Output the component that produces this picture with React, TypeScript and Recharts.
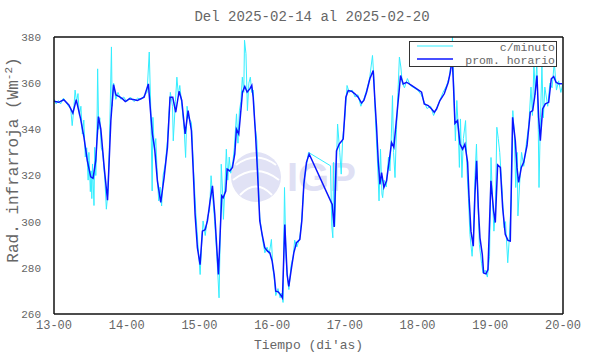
import React from 'react';
import { LineChart, Line, XAxis, YAxis, CartesianGrid, Legend, Label } from 'recharts';

const dayTicks = [13, 14, 15, 16, 17, 18, 19, 20];
const radTicks = [260, 280, 300, 320, 340, 360, 380];

// promedio horario: [dia, W/m2]
const hourly: [number, number][] = [
  [13.0, 352.2], [13.065, 351.7], [13.134, 352.8], [13.204, 350.6], [13.259, 347.0], [13.306, 352.8],
  [13.366, 344.5], [13.412, 336.5], [13.458, 326.4], [13.505, 319.4], [13.537, 318.8], [13.574, 326.4],
  [13.611, 345.5], [13.644, 340.1], [13.69, 323.5], [13.736, 309.3], [13.782, 343.8], [13.819, 359.4],
  [13.852, 354.9], [13.898, 354.2], [13.944, 353.2], [13.981, 352.0], [14.037, 353.2], [14.106, 352.8],
  [14.147, 352.5], [14.239, 353.9], [14.298, 359.7], [14.33, 346.7], [14.353, 338.0], [14.385, 331.4],
  [14.422, 317.7], [14.468, 308.3], [14.514, 319.1], [14.56, 332.2], [14.596, 353.9], [14.633, 353.9],
  [14.674, 347.4], [14.72, 356.5], [14.757, 352.5], [14.803, 338.0], [14.844, 348.1], [14.89, 339.4],
  [14.917, 320.6], [14.94, 303.2], [14.972, 288.7], [15.009, 281.4], [15.041, 295.9], [15.078, 296.5],
  [15.11, 300.3], [15.147, 309.0], [15.179, 315.5], [15.211, 303.2], [15.261, 277.1], [15.307, 311.2],
  [15.326, 310.4], [15.362, 313.3], [15.381, 322.8], [15.417, 322.0], [15.454, 323.5], [15.486, 329.3],
  [15.509, 340.1], [15.541, 338.0], [15.564, 346.0], [15.592, 356.1], [15.624, 358.6], [15.656, 356.1],
  [15.693, 357.5], [15.72, 359.0], [15.739, 353.9], [15.771, 338.0], [15.798, 322.0], [15.83, 300.3],
  [15.862, 294.5], [15.899, 288.7], [15.936, 287.2], [15.968, 286.5], [16.0, 282.9], [16.028, 277.1],
  [16.05, 269.9], [16.083, 269.6], [16.115, 268.4], [16.142, 267.0], [16.174, 298.8], [16.206, 277.1],
  [16.229, 272.0], [16.266, 280.0], [16.298, 286.5], [16.335, 290.9], [16.381, 292.3], [16.408, 300.3],
  [16.436, 316.2], [16.472, 325.7], [16.509, 329.3],
  [16.826, 307.5], [16.853, 297.7], [16.885, 330.7], [16.922, 333.6], [16.954, 334.8], [16.977, 335.8],
  [17.014, 353.9], [17.046, 356.8], [17.092, 356.5], [17.138, 355.4], [17.183, 353.9], [17.229, 351.4],
  [17.261, 352.5], [17.298, 356.1], [17.344, 361.9], [17.39, 365.5], [17.413, 352.5], [17.436, 340.9],
  [17.459, 326.4], [17.482, 316.2], [17.505, 321.3], [17.537, 314.8], [17.573, 317.7], [17.61, 326.4],
  [17.642, 334.3], [17.674, 332.2], [17.734, 352.5], [17.766, 363.3], [17.803, 359.7], [17.849, 360.4],
  [17.917, 359.0], [18.009, 357.1], [18.055, 356.1], [18.092, 351.0], [18.147, 350.3], [18.193, 348.8],
  [18.229, 347.4], [18.261, 348.8], [18.307, 352.5], [18.367, 355.4], [18.422, 360.4], [18.45, 364.8],
  [18.477, 370.6], [18.495, 358.3], [18.514, 342.6], [18.55, 343.8], [18.583, 333.6], [18.619, 331.4],
  [18.651, 333.6], [18.688, 325.7], [18.706, 311.9], [18.734, 295.9], [18.766, 289.4], [18.789, 311.9],
  [18.812, 326.4], [18.835, 306.1], [18.858, 293.0], [18.89, 285.8], [18.908, 277.8], [18.94, 277.4],
  [18.968, 279.3], [19.009, 317.7], [19.046, 304.6], [19.069, 299.6], [19.101, 324.6], [19.138, 323.5],
  [19.17, 306.1], [19.206, 294.5], [19.243, 291.9], [19.275, 291.6], [19.307, 345.2], [19.344, 335.1],
  [19.367, 323.5], [19.39, 317.0], [19.427, 323.5], [19.459, 325.7], [19.505, 332.9], [19.55, 347.4],
  [19.583, 348.1], [19.61, 353.9], [19.642, 363.3], [19.665, 345.2], [19.688, 335.1], [19.72, 348.8],
  [19.757, 351.0], [19.803, 351.7], [19.839, 361.9], [19.872, 362.9], [19.904, 360.4], [19.94, 359.7],
  [19.986, 359.7],
];

// datos c/minuto
const perMinute: [number, number][] = [
  [13.0, 353], [13.03, 351], [13.06, 352.5], [13.09, 351], [13.13, 353.5], [13.17, 351.5], [13.2, 350],
  [13.23, 349], [13.25, 341.6], [13.27, 348], [13.29, 357], [13.31, 352], [13.33, 355.5], [13.35, 346],
  [13.37, 350], [13.39, 338], [13.41, 344], [13.43, 328], [13.45, 332], [13.47, 318], [13.48, 330],
  [13.5, 313], [13.51, 322], [13.52, 310], [13.53, 325], [13.55, 307], [13.56, 332.2], [13.575, 320],
  [13.59, 337], [13.6, 366.2], [13.615, 340], [13.63, 345], [13.65, 332], [13.67, 330], [13.7, 318],
  [13.72, 305.4], [13.74, 312], [13.76, 330], [13.79, 375.7], [13.8, 350], [13.82, 360], [13.85, 353],
  [13.88, 356], [13.92, 353], [13.96, 354], [14.0, 352], [14.05, 354], [14.1, 352], [14.15, 353.5],
  [14.2, 353], [14.25, 355], [14.28, 356], [14.31, 373.5], [14.33, 350], [14.35, 313.3], [14.36, 345.2],
  [14.38, 331], [14.4, 336], [14.42, 320], [14.44, 309], [14.46, 315], [14.48, 306.8], [14.5, 320],
  [14.53, 325], [14.56, 335], [14.58, 346], [14.6, 356], [14.63, 350], [14.64, 335], [14.67, 352],
  [14.69, 362.6], [14.71, 355], [14.73, 359], [14.76, 350], [14.79, 340], [14.81, 327.8], [14.83, 350],
  [14.85, 345], [14.89, 343], [14.92, 322], [14.95, 304], [14.98, 290], [15.01, 277.1], [15.03, 290],
  [15.05, 300.3], [15.08, 294], [15.11, 302], [15.14, 305], [15.16, 319.9], [15.18, 312], [15.21, 300],
  [15.24, 285], [15.27, 267], [15.29, 300], [15.3, 324.9], [15.32, 312], [15.33, 301], [15.35, 315],
  [15.37, 331.4], [15.39, 318], [15.41, 328], [15.43, 321], [15.46, 326], [15.48, 332], [15.51, 346.7],
  [15.53, 334], [15.55, 348], [15.57, 352], [15.59, 362.6], [15.61, 356], [15.62, 378.6], [15.64, 372.8],
  [15.66, 348.1], [15.68, 360], [15.7, 362.6], [15.72, 356], [15.74, 357], [15.76, 343], [15.79, 335],
  [15.81, 318], [15.83, 302], [15.87, 292], [15.9, 286.5], [15.93, 289], [15.96, 286], [15.99, 292.3],
  [16.01, 280], [16.03, 275], [16.05, 268], [16.08, 271], [16.11, 267], [16.13, 269], [16.15, 265],
  [16.17, 314.8], [16.19, 285], [16.21, 276], [16.23, 270.6], [16.26, 281], [16.29, 285], [16.31, 292],
  [16.34, 289], [16.38, 293], [16.41, 302], [16.44, 318], [16.47, 324], [16.5, 330], [16.803, 324.2],
  [16.82, 298], [16.835, 293], [16.845, 325.7], [16.86, 298], [16.88, 320], [16.9, 342.3], [16.93, 330],
  [16.95, 320.6], [16.97, 336], [17.0, 345], [17.03, 359], [17.06, 356], [17.1, 357], [17.14, 354],
  [17.18, 355], [17.22, 350], [17.26, 353], [17.3, 357], [17.34, 362], [17.38, 372], [17.4, 362],
  [17.42, 345], [17.45, 325], [17.47, 309], [17.49, 331.4], [17.51, 312], [17.52, 310.4], [17.54, 318],
  [17.57, 315], [17.6, 328], [17.62, 322], [17.64, 338], [17.655, 354.6], [17.67, 330], [17.69, 319.1],
  [17.71, 340], [17.73, 356], [17.75, 371.3], [17.77, 367], [17.79, 360], [17.82, 358], [17.86, 362],
  [17.9, 359], [17.95, 358], [18.0, 357], [18.05, 355], [18.09, 352], [18.13, 349], [18.18, 350],
  [18.22, 346], [18.26, 349], [18.3, 352], [18.35, 356], [18.4, 359], [18.44, 363], [18.47, 372],
  [18.48, 380], [18.5, 356], [18.52, 335], [18.54, 352.5], [18.56, 340], [18.575, 323.5], [18.59, 344.5],
  [18.61, 319.1], [18.63, 336], [18.66, 343.8], [18.68, 322], [18.7, 310], [18.72, 294.5], [18.75, 285],
  [18.77, 295], [18.79, 320], [18.81, 333.6], [18.83, 310], [18.85, 290], [18.88, 282], [18.9, 277.8],
  [18.93, 279], [18.96, 276], [18.99, 285], [19.01, 327.8], [19.03, 310], [19.05, 295.9], [19.07, 305],
  [19.09, 340.9], [19.11, 336], [19.13, 330], [19.16, 315], [19.19, 297.4], [19.21, 300], [19.24, 282.2],
  [19.26, 292], [19.29, 310], [19.31, 348.1], [19.33, 338], [19.35, 314.8], [19.37, 330], [19.38, 302.5],
  [19.41, 320], [19.43, 330], [19.46, 324], [19.5, 335], [19.53, 342], [19.56, 358.3], [19.58, 346],
  [19.6, 368.4], [19.62, 355], [19.64, 369.9], [19.66, 340], [19.67, 314.8], [19.69, 345], [19.71, 367],
  [19.73, 345], [19.75, 358.3], [19.79, 350], [19.82, 360], [19.85, 358], [19.88, 369.1], [19.91, 357],
  [19.94, 361], [19.97, 356], [20.0, 360],
];

const hourlyData = hourly.map(([t, v]) => ({ t, v }));
const minuteData = perMinute.map(([t, v]) => ({ t, v }));

const FONT = '"Liberation Mono", Cousine, "Courier New", Courier, monospace';
const TEXT = '#666';
const CYAN = '#33eeff';
const BLUE = '#0a14ff';

const fmtDay = (d: number) => `${d}-00`;

const LegendBox = () => (
  <svg width={148} height={26} style={{ display: 'block' }}>
    <rect x={0.5} y={0.5} width={147} height={25} fill="#fff" stroke="#333" />
    <line x1={8} x2={44} y1={5} y2={5} stroke={CYAN} strokeWidth={1} />
    <line x1={8} x2={44} y1={18} y2={18} stroke={BLUE} strokeWidth={1.5} />
    <text x={146} y={10} textAnchor="end" fontFamily={FONT} fontSize={11.5} fill={TEXT}>c/minuto</text>
    <text x={146} y={23} textAnchor="end" fontFamily={FONT} fontSize={11.5} fill={TEXT}>prom. horario</text>
  </svg>
);

const YTitle = () => (
  <text x={18} y={160} transform="rotate(-90, 18, 160)" textAnchor="middle" fontFamily={FONT} fontSize={16} fill={TEXT}>
    Rad. infrarroja (Wm<tspan dy={-6} fontSize={11}>-2</tspan><tspan dy={6}>)</tspan>
  </text>
);

const Watermark = () => (
  <svg width={590} height={354} style={{ position: 'absolute', left: 0, top: 0 }}>
    <circle cx={256} cy={177} r={25} fill="#e1e2f5" />
    <path d="M236 165 Q256 150 276 165" stroke="#fff" strokeWidth={2} fill="none" />
    <path d="M233 180 Q256 162 279 180" stroke="#fff" strokeWidth={2} fill="none" />
    <path d="M240 195 Q256 178 272 195" stroke="#fff" strokeWidth={2} fill="none" />
    <text x={287} y={191} fontFamily="Liberation Sans, Arial, sans-serif" fontWeight="bold" fontSize={40} fill="#dfe0f4">IGP</text>
  </svg>
);

export default function App() {
  return (
    <div style={{ position: 'absolute', left: 0, top: 0, width: 590, height: 354, background: '#fff' }}>
      <Watermark />
      <div style={{ position: 'absolute', left: 0, top: 9, width: 590, textAlign: 'center', paddingLeft: 34, boxSizing: 'border-box', fontFamily: FONT, fontSize: 14, color: TEXT }}>
        Del 2025-02-14 al 2025-02-20
      </div>
      <div style={{ position: 'absolute', left: 0, top: 0 }}>
        <LineChart width={590} height={354} margin={{ top: 37, right: 27, left: 0, bottom: 0 }}>
          <CartesianGrid stroke="#aaa" strokeDasharray="2 3" horizontalValues={radTicks} verticalValues={dayTicks} />
          <XAxis
            xAxisId="main"
            dataKey="t"
            type="number"
            domain={[13, 20]}
            ticks={dayTicks}
            tickFormatter={fmtDay}
            allowDataOverflow
            height={40}
            tickSize={0}
            tickMargin={6}
            tickLine={false}
            axisLine={{ stroke: '#111', strokeWidth: 1.5 }}
            tick={{ fontFamily: FONT, fontSize: 12, fill: TEXT }}
          >
            <Label value="Tiempo (di'as)" position="insideBottom" offset={5} style={{ fontFamily: FONT, fontSize: 13, fill: TEXT }} />
          </XAxis>
          <XAxis xAxisId="bm" type="number" domain={[13, 20]} ticks={dayTicks} orientation="bottom" mirror tick={false} tickSize={5} axisLine={false} tickLine={{ stroke: '#111', strokeWidth: 1.5 }} />
          <XAxis xAxisId="top" type="number" domain={[13, 20]} ticks={dayTicks} orientation="top" mirror tick={false} tickSize={5} axisLine={{ stroke: '#111', strokeWidth: 1.5 }} tickLine={{ stroke: '#111', strokeWidth: 1.5 }} />
          <YAxis
            yAxisId="main"
            type="number"
            domain={[260, 380]}
            ticks={radTicks}
            allowDataOverflow
            width={54}
            tickSize={0}
            tickMargin={13}
            tickLine={false}
            axisLine={{ stroke: '#111', strokeWidth: 1.5 }}
            tick={{ fontFamily: FONT, fontSize: 11, fill: TEXT }}
          >
            <Label content={() => <YTitle />} />
          </YAxis>
          <YAxis yAxisId="lm" type="number" domain={[260, 380]} ticks={radTicks} orientation="left" mirror tick={false} tickSize={5} axisLine={false} tickLine={{ stroke: '#111', strokeWidth: 1.5 }} />
          <YAxis yAxisId="right" type="number" domain={[260, 380]} ticks={radTicks} orientation="right" mirror tick={false} tickSize={5} axisLine={{ stroke: '#111', strokeWidth: 1.5 }} tickLine={{ stroke: '#111', strokeWidth: 1.5 }} />
          <Line xAxisId="main" yAxisId="main" data={minuteData} dataKey="v" name="c/minuto" type="linear" stroke={CYAN} strokeWidth={1} dot={false} isAnimationActive={false} />
          <Line xAxisId="main" yAxisId="main" data={hourlyData} dataKey="v" name="prom. horario" type="linear" stroke={BLUE} strokeWidth={1.5} dot={false} isAnimationActive={false} />
          <Legend
            layout="horizontal"
            verticalAlign="middle"
            content={() => <LegendBox />}
            wrapperStyle={{ left: 409, top: 41, width: 148, height: 26 }}
          />
        </LineChart>
      </div>
    </div>
  );
}
